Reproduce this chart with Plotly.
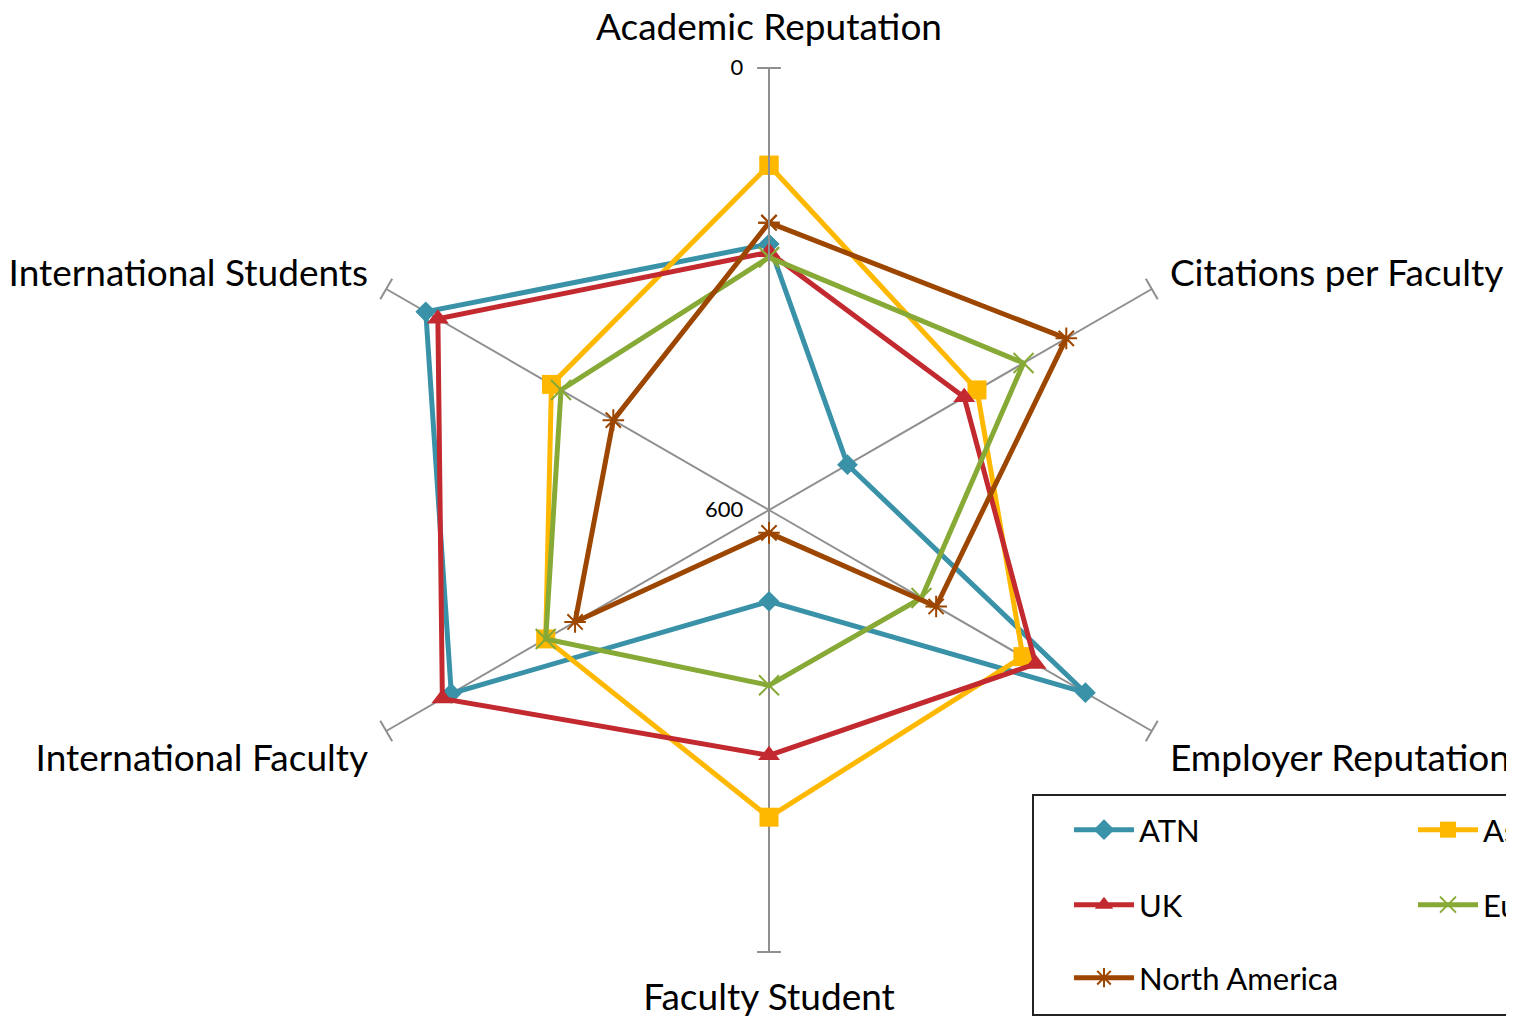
import plotly.graph_objects as go

# The page body adds an 8px margin, so the figure is 8px smaller than the window
OFF = 8
W, H = 1514 - OFF, 1017 - OFF

categories = ["Academic Reputation", "Citations per Faculty", "Employer Reputation",
              "Faculty Student", "International Faculty", "International Students"]

series_names = ["ATN", "Asia", "UK", "Europe", "North America"]
atn = [239, 477, 104, 476, 102, 62]
asia = [132, 274, 202, 183, 250, 259]
uk = [250, 294, 182, 267, 88, 81]
europe = [257, 201, 361, 362, 250, 274]
north_america = [210, 134, 338, 569, 296, 356]

radial_min, radial_max = 0, 600
tick_values = [0, 600]
tick_labels = ["0", "600"]

colors = ["#3A92A8", "#FFB800", "#C22A30", "#87A936", "#9C4600"]
symbols = ["diamond", "square", "triangle-up", "x-thin", "asterisk"]
msizes = [16, 19, 19, 20, 18]
legend_ids = ["legend", "legend", "legend2", "legend2", "legend3"]

FONT = "Lato"
GRAY = "#8f8f8f"


def px(x):
    return (x - OFF) / W


def py(y):
    return 1 - (y - OFF) / H


fig = go.Figure()

# perpendicular caps at the end of every spoke
fig.add_trace(go.Scatterpolar(
    r=[radial_min] * len(categories), theta=categories, mode="markers",
    marker=dict(symbol="line-ew", size=17,
                angle=[i * 360 / len(categories) for i in range(len(categories))],
                line=dict(color=GRAY, width=2)),
    cliponaxis=False, showlegend=False, hoverinfo="skip"))

all_values = [atn, asia, uk, europe, north_america]
for name, vals, c, s, ms, lg in zip(series_names, all_values, colors, symbols, msizes, legend_ids):
    line_sym = s in ("x-thin", "asterisk")
    fig.add_trace(go.Scatterpolar(
        r=vals + vals[:1], theta=categories + categories[:1], name=name,
        mode="lines+markers", legend=lg,
        line=dict(color=c, width=5),
        marker=dict(symbol=s, size=ms, color=c,
                    line=dict(color=c, width=2 if line_sym else 0)),
        cliponaxis=False))

cx, cy, R = 769, 510, 442
fig.update_layout(
    width=W, height=H,
    margin=dict(l=0, r=0, t=0, b=0, autoexpand=False),
    paper_bgcolor="white", plot_bgcolor="white",
    font=dict(family=FONT, color="black"),
    polar=dict(
        domain=dict(x=[px(cx - R), px(cx + R)], y=[py(cy + R), py(cy - R)]),
        bgcolor="white",
        angularaxis=dict(direction="clockwise", rotation=90, showline=False,
                         showgrid=True, gridcolor=GRAY, gridwidth=1.5,
                         ticks="outside", ticklen=13, tickcolor="rgba(0,0,0,0)",
                         tickfont=dict(size=37, family=FONT, color="black")),
        radialaxis=dict(range=[radial_max, radial_min], angle=90, side="counterclockwise",
                        showgrid=False, showline=True, linecolor=GRAY, linewidth=2,
                        tickvals=tick_values, ticktext=tick_labels, tickangle=90,
                        ticks="outside", ticklen=17, tickcolor="rgba(0,0,0,0)",
                        tickfont=dict(size=22, family=FONT, color="black"))),
    showlegend=True,
)

leg_common = dict(orientation="h", xanchor="left", yanchor="middle", bgcolor="rgba(0,0,0,0)",
                  borderwidth=0, font=dict(size=31, family=FONT, color="black"),
                  itemwidth=60, entrywidth=269, itemclick=False)
fig.update_layout(
    legend=dict(x=px(1069), y=py(830), **leg_common),
    legend2=dict(x=px(1069), y=py(905), **leg_common),
    legend3=dict(x=px(1069), y=py(978), **leg_common),
)

fig.add_shape(type="rect", xref="paper", yref="paper",
              x0=px(1033), x1=px(1530), y0=py(1015), y1=py(795),
              line=dict(color="#222222", width=2), fillcolor="rgba(0,0,0,0)")

fig.write_html("out.html")
